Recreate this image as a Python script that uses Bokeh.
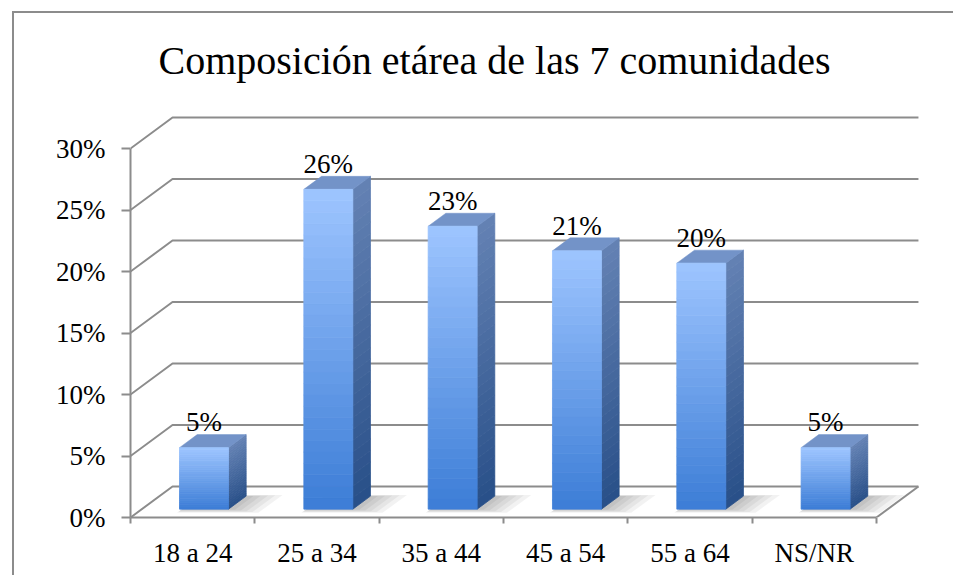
import numpy as np
from bokeh.plotting import figure
from bokeh.models import FixedTicker, PrintfTickFormatter, Label
from bokeh.core.properties import value
from bokeh.embed import file_html
from bokeh.resources import INLINE

# ---------------- data ----------------
title_text = "Composición etárea de las 7 comunidades"
categories = ["18 a 24", "25 a 34", "35 a 44", "45 a 54", "55 a 64", "NS/NR"]
values = [5, 26, 23, 21, 20, 5]
y_ticks = [0, 5, 10, 15, 20, 25, 30]
value_labels = ["5%", "26%", "23%", "21%", "20%", "5%"]

# ---------------- styling / 3D geometry ----------------
FONT = "Liberation Serif"
GRAY = "#8c8c8c"
DX, DY = 0.338, 2.52          # depth vector of the floor (data units)
F0, F1 = 0.27, 0.69           # depth fraction of bar front / back
BAR_W = 0.394
NSL = 28                      # gradient slices


def hex2rgb(h):
    h = h.lstrip("#")
    return np.array([int(h[i:i + 2], 16) for i in (0, 2, 4)], dtype=float)


def mix(c_top, c_bot, t):
    a, b = hex2rgb(c_top), hex2rgb(c_bot)
    c = a * (1 - t) + b * t
    return "#%02x%02x%02x" % tuple(int(round(v)) for v in c)


FRONT_TOP, FRONT_BOT = "#9ec5ff", "#3c7dd6"
SIDE_TOP, SIDE_BOT = "#6482b4", "#284f88"
TOP_FACE = "#7393c8"

n = len(categories)
p = figure(width=941, height=564, x_range=(0, 6.636), y_range=(0, 40.98),
           output_backend="svg", toolbar_location=None, title=None,
           min_border_left=116, min_border_right=0, min_border_top=0,
           min_border_bottom=60, outline_line_color=None,
           background_fill_color="white", border_fill_color="white")
p.margin = (11, 0, 0, 12)
p.styles = {"border-left": "2px solid #8c8c8c", "border-top": "2px solid #8c8c8c"}

# ---------------- axes ----------------
centers = [i + 0.5 for i in range(n)]
xa = p.xaxis[0]
xa.ticker = FixedTicker(ticks=centers, minor_ticks=list(range(n + 1)))
xa.major_label_overrides = {c: lab for c, lab in zip(centers, categories)}
xa.bounds = (0, n)
xa.axis_line_color = GRAY
xa.axis_line_width = 2
xa.major_tick_line_color = None
xa.minor_tick_line_color = GRAY
xa.minor_tick_line_width = 2
xa.minor_tick_out = 6
xa.minor_tick_in = 0
xa.major_label_standoff = 14
xa.major_label_text_font = FONT
xa.major_label_text_font_size = "27px"
xa.major_label_text_color = "black"

ya = p.yaxis[0]
ya.ticker = FixedTicker(ticks=y_ticks)
ya.formatter = PrintfTickFormatter(format="%d%%")
ya.bounds = (0, y_ticks[-1])
ya.axis_line_color = GRAY
ya.axis_line_width = 2
ya.major_tick_line_color = GRAY
ya.major_tick_line_width = 2
ya.major_tick_out = 9
ya.major_tick_in = 0
ya.minor_tick_line_color = None
ya.major_label_standoff = 16
ya.major_label_text_font = FONT
ya.major_label_text_font_size = "27px"
ya.major_label_text_color = "black"

p.xgrid.visible = False
p.ygrid.visible = False

# ---------------- 3D walls / gridlines ----------------
gx, gy = [], []
for t in y_ticks:
    gx.append([0, DX, n + DX])
    gy.append([t, t + DY, t + DY])
# right floor edge
gx.append([n + DX, n])
gy.append([DY, 0])
p.multi_line(gx, gy, line_color=GRAY, line_width=2)


def floor_pt(u, f, h=0.0):
    return u + f * DX, h + f * DY


# ---------------- shadows ----------------
for i, v in enumerate(values):
    x0 = i + 0.5 - BAR_W / 2
    x1 = x0 + BAR_W
    for k in range(5):
        u0 = x0 + 0.02
        u1 = x1 + 0.06 + 0.055 * k
        f0 = F0 - 0.02 - 0.025 * k
        f1 = F1 + 0.01 * k
        pts = [floor_pt(u0, f0), floor_pt(u1, f0), floor_pt(u1, f1), floor_pt(u0, f1)]
        p.patch([q[0] for q in pts], [q[1] for q in pts], fill_color="#000000",
                fill_alpha=0.05, line_color=None)

# ---------------- bars ----------------
bdx, bdy = (F1 - F0) * DX, (F1 - F0) * DY
fl, fr, fb, ft, fc = [], [], [], [], []
sx, sy, sc = [], [], []
tx, ty = [], []
for i, v in enumerate(values):
    x0 = i + 0.5 - BAR_W / 2 + F0 * DX
    x1 = x0 + BAR_W
    yb = F0 * DY
    yt = yb + v
    for k in range(NSL):
        a = yb + (yt - yb) * k / NSL
        b = yb + (yt - yb) * (k + 1) / NSL
        t = 1 - (k + 0.5) / NSL
        fl.append(x0); fr.append(x1); fb.append(a); ft.append(b)
        fc.append(mix(FRONT_TOP, FRONT_BOT, t))
        sx.append([x1, x1 + bdx, x1 + bdx, x1])
        sy.append([a, a + bdy, b + bdy, b])
        sc.append(mix(SIDE_TOP, SIDE_BOT, t))
    tx.append([x0, x1, x1 + bdx, x0 + bdx])
    ty.append([yt, yt, yt + bdy, yt + bdy])

p.patches(sx, sy, fill_color=sc, line_color=sc, line_width=0.8)
p.patches(tx, ty, fill_color=TOP_FACE, line_color=TOP_FACE, line_width=0.5)
p.quad(left=fl, right=fr, bottom=fb, top=ft, fill_color=fc, line_color=fc, line_width=0.8)

# ---------------- value labels ----------------
lx = [i + 0.5 + F0 * DX for i in range(n)]
ly = [v + F1 * DY + 1.0 for v in values]
p.text(lx, ly, text=value_labels, text_font=value(FONT), text_font_size="27px",
       text_align="center", text_baseline="alphabetic", text_color="black")

# ---------------- title ----------------
p.add_layout(Label(x=2.928, y=37.15, text=title_text, text_font=FONT,
                   text_font_size="40px", text_align="center",
                   text_baseline="alphabetic", text_color="black"))

open("out.html", "w").write(file_html(p, INLINE))
